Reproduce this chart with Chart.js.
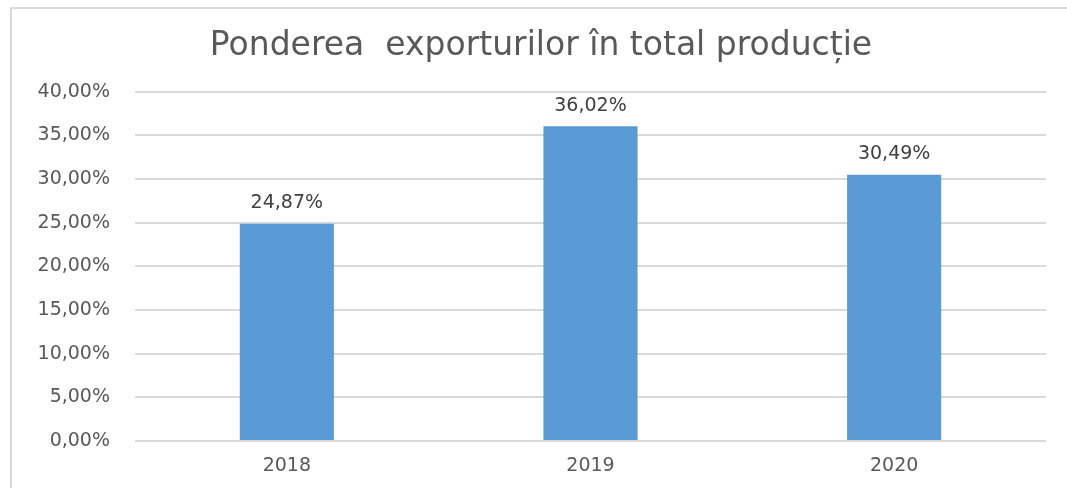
<!DOCTYPE html>
<html>
<head>
<meta charset="utf-8">
<script src="https://cdn.jsdelivr.net/npm/chart.js@4"></script>
<style>
html,body{margin:0;padding:0;background:#fff;overflow:hidden;}
#wrap{position:relative;width:1067px;height:488px;overflow:hidden;}
#frame{position:absolute;left:10px;top:7px;width:1055px;height:479px;border-top:2px solid #d9d9d9;border-left:2px solid #d9d9d9;}
canvas{position:absolute;left:0;top:0;}
</style>
</head>
<body>
<div id="wrap"><div id="frame"></div><canvas id="c" width="1067" height="488"></canvas></div>
<script>
const categories = ['2018', '2019', '2020'];
const values = [24.87, 36.02, 30.49];
const chartTitle = 'Ponderea  exporturilor în total producție';

const fmt = v => v.toFixed(2).replace('.', ',') + '%';
const FONT = "'DejaVu Sans', sans-serif";

const labelPlugin = {
  id: 'barLabels',
  afterDatasetsDraw(chart) {
    const ctx = chart.ctx;
    const meta = chart.getDatasetMeta(0);
    ctx.save();
    ctx.font = '19px ' + FONT;
    ctx.fillStyle = '#404040';
    ctx.textAlign = 'center';
    ctx.textBaseline = 'bottom';
    meta.data.forEach((bar, i) => {
      ctx.fillText(fmt(values[i]), bar.x, bar.y - 11);
    });
    ctx.restore();
  }
};

new Chart(document.getElementById('c'), {
  type: 'bar',
  data: {
    labels: categories,
    datasets: [{
      data: values,
      backgroundColor: '#5b9bd5',
      barPercentage: 0.31,
      categoryPercentage: 1.0
    }]
  },
  options: {
    responsive: false,
    animation: false,
    devicePixelRatio: 1,
    layout: { padding: { top: 3, right: 21, left: 36, bottom: 0 } },
    plugins: {
      legend: { display: false },
      tooltip: { enabled: false },
      title: {
        display: true,
        text: chartTitle,
        color: '#595959',
        font: { family: FONT, size: 33, weight: 'normal', lineHeight: 1.2 },
        padding: { top: 24, bottom: 25 }
      }
    },
    scales: {
      x: {
        grid: { display: false, drawTicks: false },
        border: { display: false },
        ticks: { color: '#595959', font: { family: FONT, size: 19 }, padding: 14 },
        afterFit(s) { s.height = 47; }
      },
      y: {
        min: 0, max: 40,
        ticks: { stepSize: 5, color: '#595959', font: { family: FONT, size: 19 }, padding: 25, callback: v => fmt(v) },
        grid: { color: '#d9d9d9', lineWidth: 2, drawTicks: false },
        border: { display: false },
        afterFit(s) { s.width = 99; }
      }
    }
  },
  plugins: [labelPlugin]
});
</script>
</body>
</html>
